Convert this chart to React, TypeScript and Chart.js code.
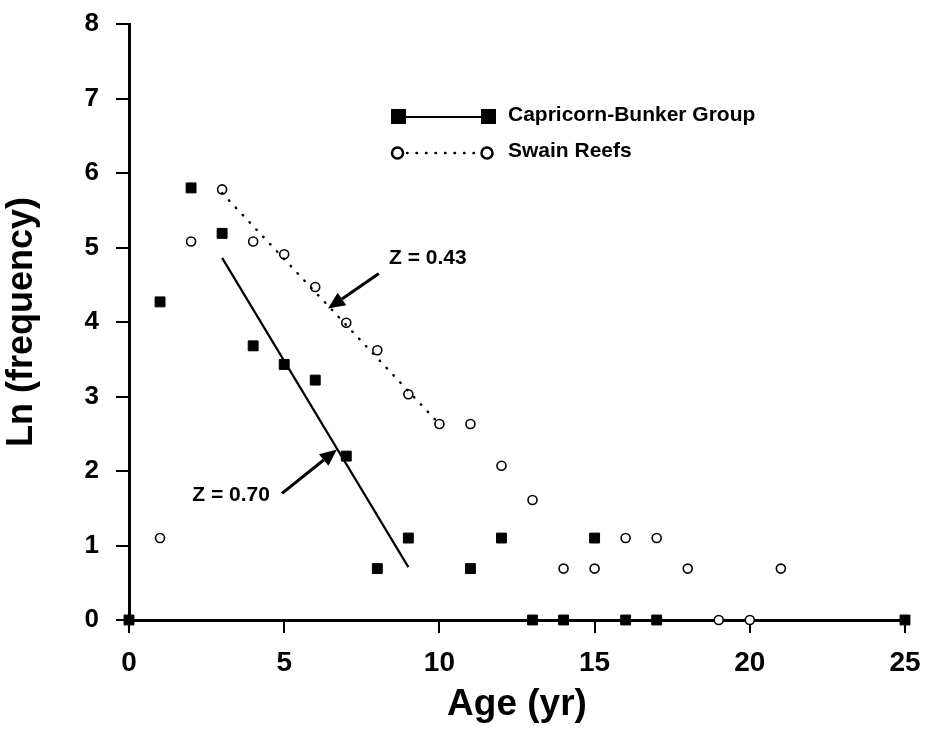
import React, { useEffect, useRef } from "react";
import { Chart, registerables } from "chart.js";

Chart.register(...registerables);

// Data
const capricornAges = [0, 1, 2, 3, 4, 5, 6, 7, 8, 9, 11, 12, 13, 14, 15, 16, 17, 25];
const capricornLnFreq = [0, 4.27, 5.8, 5.19, 3.68, 3.43, 3.22, 2.2, 0.69, 1.1, 0.69, 1.1, 0, 0, 1.1, 0, 0, 0];

const swainAges = [1, 2, 3, 4, 5, 6, 7, 8, 9, 10, 11, 12, 13, 14, 15, 16, 17, 18, 19, 20, 21];
const swainLnFreq = [1.1, 5.08, 5.78, 5.08, 4.91, 4.47, 3.99, 3.62, 3.03, 2.63, 2.63, 2.07, 1.61, 0.69, 0.69, 1.1, 1.1, 0.69, 0, 0, 0.69];

// Regression (catch curve) lines
const capricornFitAges = [3, 9];
const capricornFitLn = [4.86, 0.71];
const swainFitAges = [3, 10];
const swainFitLn = [5.73, 2.63];

// Tick values
const xTicks = [0, 5, 10, 15, 20, 25];
const yTicks = [0, 1, 2, 3, 4, 5, 6, 7, 8];

// Annotations (data coordinates)
const annotationLabels = ["Z = 0.70", "Z = 0.43"];
const annotationTextX = [3.29, 9.63];
const annotationTextY = [1.68, 4.85];
const arrowFromX = [4.93, 8.05];
const arrowFromY = [1.7, 4.65];
const arrowToX = [6.7, 6.41];
const arrowToY = [2.29, 4.18];

const seriesNames = ["Capricorn-Bunker Group", "Swain Reefs"];

const FONT = "'Liberation Sans', Arial, Helvetica, sans-serif";

const toXY = (xs: number[], ys: number[]) => xs.map((x, i) => ({ x, y: ys[i] }));

const overlayPlugin = {
  id: "overlay",
  afterDatasetsDraw(chart: any) {
    const { ctx, scales } = chart;
    const xs = scales.x;
    const ys = scales.y;
    ctx.save();
    // annotations
    ctx.fillStyle = "#000";
    ctx.strokeStyle = "#000";
    ctx.font = `bold 21px ${FONT}`;
    ctx.textAlign = "center";
    ctx.textBaseline = "middle";
    annotationLabels.forEach((label, i) => {
      ctx.fillText(label, xs.getPixelForValue(annotationTextX[i]), ys.getPixelForValue(annotationTextY[i]));
      const x1 = xs.getPixelForValue(arrowFromX[i]);
      const y1 = ys.getPixelForValue(arrowFromY[i]);
      const x2 = xs.getPixelForValue(arrowToX[i]);
      const y2 = ys.getPixelForValue(arrowToY[i]);
      const ang = Math.atan2(y2 - y1, x2 - x1);
      const headLen = 17;
      const headW = 7.5;
      const bx = x2 - headLen * Math.cos(ang);
      const by = y2 - headLen * Math.sin(ang);
      ctx.lineWidth = 3;
      ctx.beginPath();
      ctx.moveTo(x1, y1);
      ctx.lineTo(bx, by);
      ctx.stroke();
      ctx.beginPath();
      ctx.moveTo(x2, y2);
      ctx.lineTo(bx + headW * Math.sin(ang), by - headW * Math.cos(ang));
      ctx.lineTo(bx - headW * Math.sin(ang), by + headW * Math.cos(ang));
      ctx.closePath();
      ctx.fill();
    });

    // legend
    ctx.textAlign = "left";
    ctx.font = `bold 21px ${FONT}`;
    // Capricorn row
    const r1 = 117;
    ctx.lineWidth = 2;
    ctx.setLineDash([]);
    ctx.beginPath();
    ctx.moveTo(399, r1);
    ctx.lineTo(488, r1);
    ctx.stroke();
    ctx.fillRect(391, r1 - 8, 15, 15);
    ctx.fillRect(481, r1 - 8, 15, 15);
    ctx.fillText(seriesNames[0], 508, r1 - 2);
    // Swain row
    const r2 = 153;
    ctx.lineWidth = 2.5;
    ctx.lineCap = "round";
    ctx.setLineDash([0.5, 9]);
    ctx.beginPath();
    ctx.moveTo(407, r2);
    ctx.lineTo(478, r2);
    ctx.stroke();
    ctx.setLineDash([]);
    ctx.lineWidth = 2.5;
    [397.5, 487].forEach((cx) => {
      ctx.beginPath();
      ctx.arc(cx, r2, 5.5, 0, Math.PI * 2);
      ctx.fillStyle = "#fff";
      ctx.fill();
      ctx.stroke();
    });
    ctx.fillStyle = "#000";
    ctx.fillText(seriesNames[1], 508, r2 - 2);
    ctx.restore();
  },
};

export default function App() {
  const canvasRef = useRef<HTMLCanvasElement | null>(null);

  useEffect(() => {
    if (!canvasRef.current) return;
    const chart = new Chart(canvasRef.current, {
      type: "scatter",
      data: {
        datasets: [
          {
            label: "Capricorn fit",
            type: "line",
            data: toXY(capricornFitAges, capricornFitLn),
            borderColor: "#000",
            borderWidth: 2.2,
            pointRadius: 0,
            fill: false,
          },
          {
            label: "Swain fit",
            type: "line",
            data: toXY(swainFitAges, swainFitLn),
            borderColor: "#000",
            borderWidth: 2.5,
            borderDash: [0.5, 9.5],
            borderCapStyle: "round",
            pointRadius: 0,
            fill: false,
          },
          {
            label: seriesNames[1],
            data: toXY(swainAges, swainLnFreq),
            pointStyle: "circle",
            pointRadius: 4.5,
            pointBorderWidth: 1.6,
            backgroundColor: "#fff",
            borderColor: "#000",
            showLine: false,
          },
          {
            label: seriesNames[0],
            data: toXY(capricornAges, capricornLnFreq),
            pointStyle: "rect",
            pointRadius: 7,
            pointBorderWidth: 1,
            backgroundColor: "#000",
            borderColor: "#000",
            showLine: false,
          },
        ],
      },
      options: {
        animation: false,
        responsive: false,
        clip: false as any,
        layout: { padding: { top: 24, right: 23, left: 0, bottom: 0 } },
        plugins: {
          legend: { display: false },
          tooltip: { enabled: false },
        },
        scales: {
          x: {
            type: "linear",
            min: 0,
            max: 25,
            afterFit: (scale: any) => {
              scale.height = 109;
              scale.paddingLeft = 0;
              scale.paddingRight = 0;
            },
            afterBuildTicks: (scale: any) => {
              scale.ticks = xTicks.map((v) => ({ value: v }));
            },
            ticks: {
              color: "#000",
              padding: 13,
              font: { family: FONT, size: 28, weight: "bold" },
              maxRotation: 0,
            },
            grid: {
              display: true,
              drawOnChartArea: false,
              drawTicks: true,
              tickLength: 13,
              color: "#000",
              lineWidth: 2,
            },
            border: { display: true, color: "#000", width: 3 },
            title: {
              display: true,
              text: "Age (yr)",
              color: "#000",
              font: { family: FONT, size: 37, weight: "bold" },
              padding: { top: 0, bottom: 2 },
            },
          },
          y: {
            type: "linear",
            min: 0,
            max: 8,
            afterFit: (scale: any) => {
              scale.width = 129;
              scale.paddingTop = 0;
              scale.paddingBottom = 0;
            },
            afterBuildTicks: (scale: any) => {
              scale.ticks = yTicks.map((v) => ({ value: v }));
            },
            ticks: {
              color: "#000",
              padding: 17,
              font: { family: FONT, size: 26, weight: "bold" },
            },
            grid: {
              display: true,
              drawOnChartArea: false,
              drawTicks: true,
              tickLength: 13,
              color: "#000",
              lineWidth: 2,
            },
            border: { display: true, color: "#000", width: 3 },
            title: {
              display: true,
              text: "Ln (frequency)",
              color: "#000",
              font: { family: FONT, size: 36, weight: "bold" },
              padding: { top: 0, bottom: 0 },
            },
          },
        },
      },
      plugins: [overlayPlugin],
    });
    return () => chart.destroy();
  }, []);

  return (
    <div style={{ position: "fixed", left: 0, top: 0, width: 928, height: 729, background: "#fff" }}>
      <canvas ref={canvasRef} width={928} height={729} />
    </div>
  );
}
